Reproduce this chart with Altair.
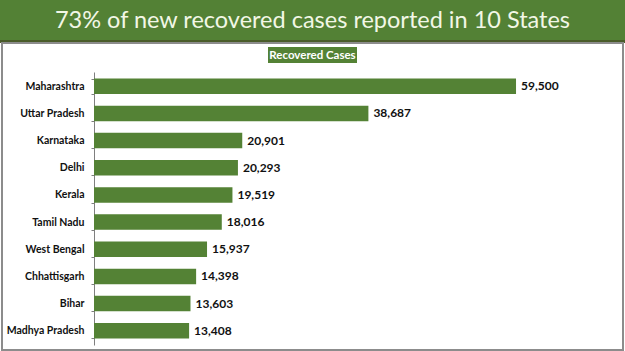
import altair as alt
import pandas as pd

states = ["Maharashtra", "Uttar Pradesh", "Karnataka", "Delhi", "Kerala",
          "Tamil Nadu", "West Bengal", "Chhattisgarh", "Bihar", "Madhya Pradesh"]
recovered = [59500, 38687, 20901, 20293, 19519, 18016, 15937, 14398, 13603, 13408]
title_text = "73% of new recovered cases reported in 10 States"
legend_text = "Recovered Cases"

df = pd.DataFrame({"state": states, "value": recovered})

GREEN = "#548235"
PL, PT, PR, PB = 94, 72, 4, 6
W, H = 625 - PL - PR, 351 - PT - PB

one = alt.Data(values=[{"k": 1}])

y_enc = alt.Y("state:N", sort=states, title=None,
              scale=alt.Scale(paddingInner=0.43, paddingOuter=0.24),
              axis=alt.Axis(labelFont="Lato", labelFontWeight="bold", labelFontSize=10.5,
                            labelColor="#111111", labelPadding=7, tickSize=3,
                            tickColor="#7f7f7f", domainColor="#7f7f7f", tickBand="extent",
                            grid=False))
x_enc = alt.X("value:Q", title=None, axis=None,
              scale=alt.Scale(domain=[0, 74300], nice=False))

bars = alt.Chart(df).mark_bar(color=GREEN).encode(x=x_enc, y=y_enc)
labels = alt.Chart(df).mark_text(align="left", baseline="middle", dx=5, font="Lato",
                                 fontWeight="bold", fontSize=12, color="#111111").encode(
    x=x_enc, y=y_enc, text=alt.Text("value:Q", format=","))

header = alt.Chart(one).mark_rect(color="#538135").encode(
    x=alt.value(-PL), x2=alt.value(W + PR), y=alt.value(-PT), y2=alt.value(40 - PT))
strip = alt.Chart(one).mark_rect(color="#4a5c2a").encode(
    x=alt.value(-PL), x2=alt.value(W + PR), y=alt.value(40 - PT), y2=alt.value(43 - PT))
border = alt.Chart(one).mark_rect(fill=None, stroke="#8c8c8c", strokeWidth=2).encode(
    x=alt.value(2 - PL), x2=alt.value(623 - PL), y=alt.value(43 - PT), y2=alt.value(350 - PT))
title = alt.Chart(one).mark_text(text=title_text, font="Lato", fontSize=23.5, color="#f2f7e6",
                                 align="center", baseline="middle").encode(
    x=alt.value(312.5 - PL), y=alt.value(21 - PT))
legbox = alt.Chart(one).mark_rect(color=GREEN).encode(
    x=alt.value(268 - PL), x2=alt.value(357 - PL), y=alt.value(47 - PT), y2=alt.value(63 - PT))
legtxt = alt.Chart(one).mark_text(text=legend_text, font="Lato", fontWeight="bold", fontSize=11.5,
                                  color="white", align="center", baseline="middle").encode(
    x=alt.value(312.5 - PL), y=alt.value(55.5 - PT))

chart = alt.layer(header, strip, border, legbox, legtxt, title, bars, labels).properties(
    width=W, height=H,
    autosize=alt.AutoSizeParams(type="none"),
    padding={"left": PL, "top": PT, "right": PR, "bottom": PB},
    background="white",
).configure_view(stroke=None)

chart.save("out.html", embed_options={"renderer": "svg", "actions": False})
